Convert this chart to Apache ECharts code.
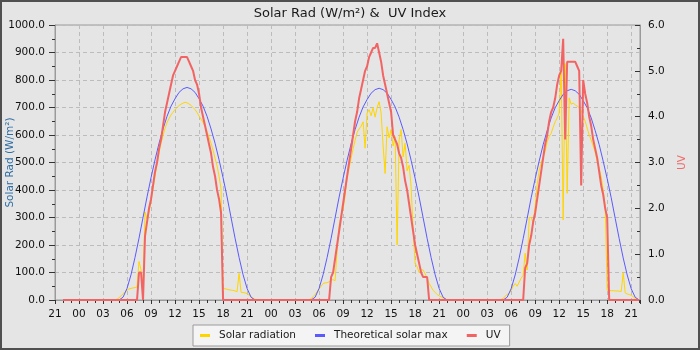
<!DOCTYPE html>
<html>
<head>
<meta charset="utf-8">
<script src="https://cdn.jsdelivr.net/npm/echarts@6/dist/echarts.min.js"></script>
<style>
html, body { margin: 0; padding: 0; background: #e5e5e5; }
#chart { width: 700px; height: 350px; }
</style>
</head>
<body>
<div id="chart"></div>
<script>
// x is counted in hours from 21:00 of the first (empty) evening
var hourLabels = ['21', '00', '03', '06', '09', '12', '15', '18', '21', '00', '03', '06', '09',
	'12', '15', '18', '21', '00', '03', '06', '09', '12', '15', '18', '21'];

// solar radiation W/m², every 15 min from 04:30 to 22:00
var solarDay1 = [0, 3, 8, 15, 22, 30, 36, 40, 42, 44, 45, 47, 140, 110, 50, 320, 295, 320, 360, 405,
	450, 495, 535, 570, 598, 625, 645, 660, 673, 683, 692, 700, 707, 712, 716, 719, 717, 713, 708, 700,
	692, 682, 669, 658, 645, 632, 612, 592, 570, 545, 515, 488, 450, 405, 42, 41, 39, 37, 36, 35,
	33, 30, 97, 28, 27, 26, 23, 18, 12, 6, 2];
var solarDay2 = [0, 1, 5, 12, 20, 30, 40, 50, 60, 62, 63, 66, 72, 74, 70, 180, 270, 305, 330, 380,
	445, 480, 515, 550, 580, 610, 622, 632, 648, 552, 680, 692, 670, 700, 665, 700, 721, 680, 560, 460,
	630, 590, 620, 560, 594, 200, 582, 620, 520, 570, 470, 490, 412, 255, 133, 121, 100, 110, 109, 95,
	80, 60, 48, 35, 28, 20, 15, 12, 7, 3, 0];
var solarDay3 = [0, 2, 6, 14, 20, 24, 35, 50, 60, 50, 65, 79, 90, 170, 109, 300, 300, 280, 340, 420,
	470, 500, 520, 540, 575, 595, 606, 628, 648, 662, 680, 836, 291, 860, 388, 735, 712, 716, 710, 705,
	700, 688, 668, 650, 625, 600, 582, 560, 538, 505, 478, 448, 400, 340, 36, 35, 34, 34, 33, 33,
	32, 31, 99, 26, 22, 20, 17, 12, 6, 3, 0];

// theoretical solar max W/m², every 30 min from 05:00 to 22:00
var maxDay1 = [0, 10, 42, 92, 155, 225, 300, 375, 445, 510, 570, 622, 668, 705, 732, 755, 768, 773,
	768, 755, 732, 705, 668, 622, 570, 510, 445, 375, 300, 225, 155, 92, 42, 10, 0];
var maxDay2 = [0, 10, 42, 92, 154, 224, 299, 374, 443, 508, 568, 620, 665, 702, 729, 752, 765, 770,
	765, 752, 729, 702, 665, 620, 568, 508, 443, 374, 299, 224, 154, 92, 42, 10, 0];
var maxDay3 = [0, 10, 41, 91, 153, 223, 297, 372, 441, 505, 565, 616, 662, 699, 725, 748, 761, 766,
	761, 748, 725, 699, 662, 616, 565, 505, 441, 372, 297, 223, 153, 91, 41, 10, 0];

// UV index, every 15 min from 07:00 to 20:00
var uvDay1 = [0, 0, 0.6, 0.6, 0, 1.4, 1.7, 2.0, 2.2, 2.5, 2.8, 3.0, 3.3, 3.5, 3.8, 4.1, 4.3, 4.5,
	4.7, 4.9, 5.0, 5.1, 5.2, 5.3, 5.3, 5.3, 5.3, 5.2, 5.1, 5.0, 4.8, 4.7, 4.5, 4.2, 4.0, 3.8, 3.6,
	3.4, 3.2, 2.9, 2.7, 2.4, 2.2, 1.9, 0, 0, 0, 0, 0, 0, 0, 0, 0];
var uvDay2 = [0, 0, 0.5, 0.6, 0.9, 1.2, 1.5, 1.8, 2.1, 2.4, 2.7, 3.0, 3.3, 3.6, 3.9, 4.1, 4.4, 4.6,
	4.8, 5.0, 5.1, 5.3, 5.4, 5.5, 5.5, 5.6, 5.4, 5.2, 4.9, 4.7, 4.5, 4.3, 4.1, 3.6, 3.5, 3.4, 3.2,
	3.1, 2.9, 2.6, 2.4, 2.1, 1.8, 1.5, 1.2, 1.0, 0.8, 0.6, 0.5, 0.5, 0.5, 0, 0];
var uvDay3 = [0, 0, 0, 0.7, 0.8, 1.2, 1.4, 1.7, 1.9, 2.2, 2.5, 2.8, 3.1, 3.4, 3.6, 3.9, 4.1, 4.2,
	4.4, 4.7, 4.9, 5.0, 5.7, 3.5, 5.2, 5.2, 5.2, 5.2, 5.2, 5.1, 5.0, 2.5, 4.8, 4.5, 4.3, 4.0, 3.8,
	3.5, 3.3, 3.1, 2.8, 2.5, 2.3, 2.0, 1.8, 0, 0, 0, 0, 0, 0, 0, 0];

//拼接三天的数据, 夜间为0
function buildPoints(days, startClock, step){
	var pts = [[1, 0]];
	for (var d = 0; d < days.length; d++) {
		for (var i = 0; i < days[d].length; i++) {
			pts.push([3 + 24 * d + startClock + i * step, days[d][i]]);
		}
	}
	pts.push([73, 0]);
	return pts;
}

var chart = echarts.init(document.getElementById('chart'), null, {renderer: 'canvas'});
var smallFont = 10.5;
var option = {
	animation: false,
	backgroundColor: '#e5e5e5',
	textStyle: { fontFamily: 'DejaVu Sans' },
	title: {
		text: 'Solar Rad (W/m²) &  UV Index',
		left: 'center',
		top: 2,
		textStyle: { fontSize: 13, fontWeight: 'normal', color: '#1a1a1a', fontFamily: 'DejaVu Sans' }
	},
	legend: {
		left: 193,
		top: 325,
		padding: [5, 9, 5, 7],
		itemGap: 19,
		itemWidth: 10,
		itemHeight: 3,
		icon: 'rect',
		backgroundColor: '#f4f4f4',
		borderColor: '#9a9a9a',
		borderWidth: 1,
		textStyle: { fontSize: smallFont, color: '#1a1a1a', padding: [0, 0, 0, 4] },
		data: ['Solar radiation', 'Theoretical solar max', 'UV']
	},
	grid: {
		left: 55, right: 60, top: 25, bottom: 50,
		outerBoundsMode: 'none',
		show: true, borderColor: '#9a9a9a', borderWidth: 1
	},
	xAxis: {
		type: 'value',
		min: 0,
		max: 73.1,
		interval: 3,
		axisLine: { lineStyle: { color: '#9a9a9a' } },
		axisTick: { length: 4, lineStyle: { color: '#333' } },
		minorTick: { show: true, splitNumber: 3, length: 3, lineStyle: { color: '#333' } },
		axisLabel: {
			color: '#111', fontSize: smallFont, margin: 9, showMaxLabel: false,
			formatter: function (v) {
				if (v % 3 !== 0) return '';
				return hourLabels[v / 3];
			}
		},
		splitLine: { show: true, lineStyle: { color: '#bcbcbc', type: [4, 3] } }
	},
	yAxis: [
		{
			type: 'value',
			min: 0, max: 1000, interval: 100,
			name: 'Solar Rad (W/m²)',
			nameLocation: 'middle',
			nameGap: 39,
			nameMoveOverlap: false,
			nameTextStyle: { color: '#2c6ea6', fontSize: smallFont },
			axisLine: { show: true, lineStyle: { color: '#9a9a9a' } },
			axisTick: { show: true, length: 6, lineStyle: { color: '#333' } },
			minorTick: { show: true, splitNumber: 2, length: 3, lineStyle: { color: '#333' } },
			axisLabel: {
				color: '#111', fontSize: smallFont, margin: 10,
				formatter: function (v) { return v.toFixed(1); }
			},
			splitLine: { show: true, lineStyle: { color: '#bcbcbc', type: [4, 3] } }
		},
		{
			type: 'value',
			min: 0, max: 6, interval: 1,
			name: 'UV',
			nameLocation: 'middle',
			nameGap: 37,
			nameMoveOverlap: false,
			nameTextStyle: { color: '#ef6a6a', fontSize: smallFont },
			position: 'right',
			axisLine: { show: true, lineStyle: { color: '#9a9a9a' } },
			axisTick: { show: true, inside: true, length: 5, lineStyle: { color: '#333' } },
			minorTick: { show: true, splitNumber: 2, length: 3, lineStyle: { color: '#333' } },
			axisLabel: {
				color: '#111', fontSize: smallFont, margin: 8,
				formatter: function (v) { return v.toFixed(1); }
			},
			splitLine: { show: false }
		}
	],
	graphic: [{
		type: 'rect',
		z: 100,
		shape: { x: 1, y: 1, width: 698, height: 348 },
		style: { fill: null, stroke: '#505050', lineWidth: 2 }
	}],
	series: [
		{
			name: 'Solar radiation',
			type: 'line',
			yAxisIndex: 0,
			showSymbol: false,
			color: '#ffd500',
			lineStyle: { width: 1, color: '#ffd500' },
			data: buildPoints([solarDay1, solarDay2, solarDay3], 4.5, 0.25)
		},
		{
			name: 'Theoretical solar max',
			type: 'line',
			yAxisIndex: 0,
			showSymbol: false,
			color: '#5a5aff',
			lineStyle: { width: 1, color: '#5a5aff' },
			data: buildPoints([maxDay1, maxDay2, maxDay3], 5, 0.5)
		},
		{
			name: 'UV',
			type: 'line',
			yAxisIndex: 1,
			showSymbol: false,
			color: '#f26464',
			lineStyle: { width: 2, color: '#f26464' },
			data: buildPoints([uvDay1, uvDay2, uvDay3], 7, 0.25)
		}
	]
};
chart.setOption(option);
</script>
</body>
</html>
